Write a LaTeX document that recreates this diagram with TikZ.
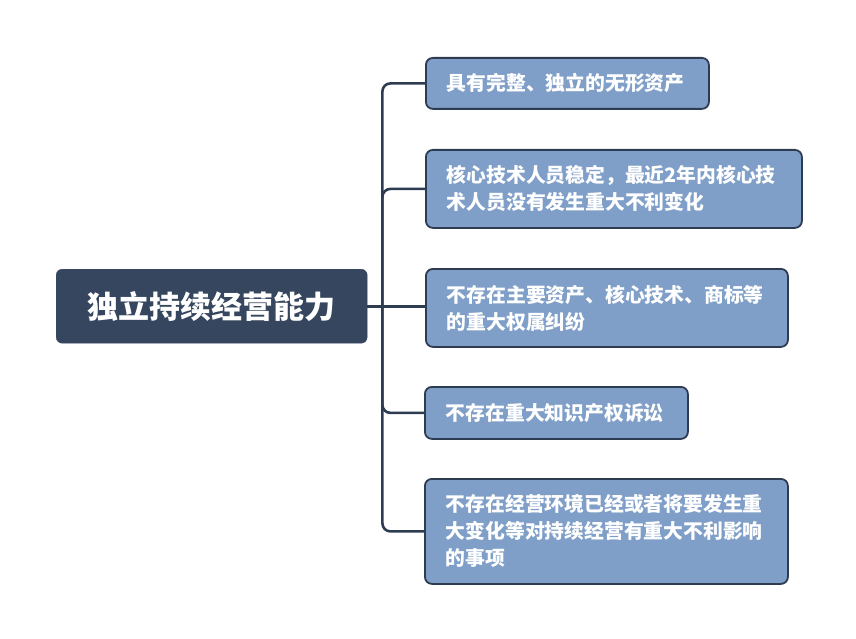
\documentclass[tikz,border=0pt]{standalone}
\usepackage{fontspec}
\newfontfamily\cjk{Noto Sans CJK SC}
\definecolor{rootfill}{HTML}{35465E}
\definecolor{childfill}{HTML}{7F9FC8}
\definecolor{edge}{HTML}{2E3C52}
\tikzset{
  rootbox/.style={draw=rootfill, fill=rootfill, rounded corners=6pt, anchor=north west,
    minimum width=311pt, minimum height=74pt, inner sep=0pt,
    font=\cjk\bfseries\fontsize{31}{36}\selectfont, text=white},
  childbox/.style={draw=edge, fill=childfill, line width=1.8pt, rounded corners=7pt,
    anchor=north west, inner xsep=21pt, inner ysep=0pt, align=left,
    font=\cjk\bfseries\fontsize{19.8}{27}\selectfont, text=white},
  conn/.style={draw=edge, line width=2.6pt, rounded corners=8pt},
}
\begin{document}
\begin{tikzpicture}[x=1pt,y=-1pt]
\useasboundingbox (0,0) rectangle (856,639);
\node[rootbox] (root) at (56,269) {独立持续经营能力};
\node[childbox, text width=241pt, minimum height=51pt] (c1) at (425,57) {具有完整、独立的无形资产};
\node[childbox, text width=334pt, minimum height=78pt] (c2) at (425,149) {核心技术人员稳定，最近2年内核心技\\术人员没有发生重大不利变化};
\node[childbox, text width=320pt, minimum height=78pt] (c3) at (425,268) {不存在主要资产、核心技术、商标等\\的重大权属纠纷};
\node[childbox, text width=221pt, minimum height=52pt] (c4) at (424,386) {不存在重大知识产权诉讼};
\node[childbox, text width=321pt, minimum height=105pt] (c5) at (424,478) {不存在经营环境已经或者将要发生重\\大变化等对持续经营有重大不利影响\\的事项};
\coordinate (trunk) at ([xshift=15pt]root.east);
\draw[conn] (c1.west) -| (trunk) |- (c5.west);
\draw[conn] (trunk) |- (c2.west);
\draw[conn] (root.east) -- (root.east -| c3.west);
\draw[conn] (trunk) |- (c4.west);
\end{tikzpicture}
\end{document}
